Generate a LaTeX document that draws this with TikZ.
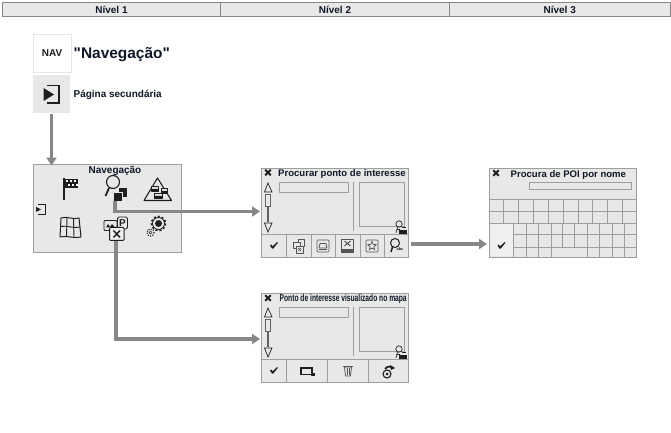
\documentclass[tikz,border=0pt]{standalone}
\usepackage{fontspec}
\setmainfont{Liberation Sans}
\newfontfamily\plainquotes{Liberation Sans}
\usetikzlibrary{arrows.meta,shapes.geometric}
\definecolor{pfill}{HTML}{E8E8E8}
\definecolor{pline}{HTML}{9E9E9E}
\definecolor{arrowgray}{HTML}{878787}
\definecolor{ink}{HTML}{1E1E1E}
\definecolor{soft}{HTML}{555555}
\definecolor{titleink}{HTML}{101828}
\tikzset{
  hdr/.style={draw=arrowgray,fill=pfill,line width=1bp},
  hdrtext/.style={font=\fontsize{10}{10}\selectfont\bfseries,text=titleink,inner sep=0pt},
  panel/.style={draw=pline,fill=pfill,line width=0.9bp,minimum width=#1,inner sep=0pt,rectangle},
  thinl/.style={draw=pline,line width=0.8bp},
  icn/.style={draw=ink,line width=0.9bp,line join=round},
  sicn/.style={draw=soft,line width=0.8bp,line join=round},
  flow/.style={draw=arrowgray,line width=3.6bp,-{Triangle[width=10bp,length=8bp]}},
  ptext/.style={font=\fontsize{10}{10}\selectfont\bfseries,text=titleink,inner sep=0pt}
}
% check mark
\newcommand{\chk}[2]{\fill[ink,shift={(#1,#2)}] (-4,0) -- (-2.8,-1) -- (-1.4,0.8) -- (3,-3.3) -- (4,-2.8) -- (-0.9,3.2) -- (-1.9,3.2) -- cycle;}
% close mark
\newcommand{\clo}[2]{\draw[ink,line width=1.8bp,shift={(#1,#2)}] (-2.8,-2.8) -- (2.8,2.8) (-2.8,2.8) -- (2.8,-2.8);}
% small poi icon corner
\newcommand{\corner}[2]{\begin{scope}[shift={(#1,#2)}]
  \draw[icn,line width=0.7bp] (-1,-3) circle (3.2) (-2.5,0) -- (-4,6) (-3.5,2.5)--(0,2.5);
  \fill[ink] (-1,3) rectangle (7,7);
  \draw[icn,line width=0.7bp] (1.5,0.5) -- (6,0.5);
\end{scope}}
% left part of list panels
\newcommand{\listbody}[1]{\begin{scope}[shift={(0,#1)}]
  \draw[thinl,fill=pfill] (279,14) rectangle (348,24);
  \draw[thinl] (353,14) -- (353,63);
  \draw[thinl] (359,14) rectangle (404,58);
  \draw[draw=ink,line width=0.7bp] (268,15) -- (272,24) -- (264.5,24) -- cycle;
  \draw[draw=ink,line width=0.7bp] (268,64) -- (272,55) -- (264.5,55) -- cycle;
  \draw[draw=ink!70,line width=0.7bp,fill=pfill] (265.5,26) rectangle (270.5,38);
  \draw[ink!70,line width=2.2bp] (268,38) -- (268,54);
  \draw[thinl] (262,66) -- (408,66);
\end{scope}}
\begin{document}
\begin{tikzpicture}[x=1bp,y=-1bp]
\useasboundingbox (0,0) rectangle (671,433);
\fill[white] (0,0) rectangle (671,433);
% headers
\node[hdr,minimum width=218bp,minimum height=14.5bp,inner sep=0pt,hdrtext] (h1) at (111.5,9.75) {Nível 1};
\node[hdr,minimum width=229bp,minimum height=14.5bp,inner sep=0pt,hdrtext] (h2) at (335,9.75) {Nível 2};
\node[hdr,minimum width=220.5bp,minimum height=14.5bp,inner sep=0pt,hdrtext] (h3) at (559.75,9.75) {Nível 3};
% NAV
\node[draw=black!10,fill=white,minimum width=38bp,minimum height=38bp,inner sep=0pt,font=\fontsize{10}{10}\selectfont\bfseries,text=ink,line width=0.7bp] (nav) at (52,53) {NAV};
\node[anchor=west,inner sep=0pt,font=\plainquotes\fontsize{15.5}{16}\selectfont\bfseries,text=titleink] (navt) at (73.5,55) {"Navegação"};
\node[fill=pfill,minimum width=37bp,minimum height=38bp,inner sep=0pt] (page) at (51.5,94) {};
\node[anchor=west,inner sep=0pt,font=\fontsize{10}{10}\selectfont\bfseries,text=titleink] (paget) at (73.5,95) {Página secundária};
\draw[ink,line width=1.5bp] (47,85.5) -- (59,85.5) -- (59,103) -- (47,103);
\fill[ink] (43.5,88) -- (54,94.5) -- (43.5,101) -- cycle;
% panels
\node[panel=148bp,minimum height=88bp] (p1) at (107,208) {};
\node[ptext,anchor=north] (p1t) at (115,166) {Navegação};
\node[panel=146.5bp,minimum height=89bp] (p2) at (335,212.5) {};
\node[panel=147.5bp,minimum height=89bp] (p3) at (562.75,212.5) {};
\node[panel=146.5bp,minimum height=89bp] (p4) at (335,337.5) {};
% --- P1 icons
% exit
\draw[ink,line width=0.7bp] (38,204.5) -- (45,204.5) -- (45,214.5) -- (38,214.5);
\fill[ink] (36,207) -- (41,209.5) -- (36,212) -- cycle;
% flag
\draw[ink,line width=1.6bp] (64,178) -- (64,200);
\fill[ink] (64,179) rectangle (78,188);
\foreach \x/\y in {66/180.5,70/180.5,74/180.5,68/184,72/184,76/184} \fill[white] (\x,\y) rectangle +(2,2);
% magnifier
\node[draw=none,inner sep=0pt,minimum size=1bp] (searchicon) at (115,201) {};
\draw[icn,line width=1.1bp] (113,182) circle (6.5);
\draw[ink,line width=1.8bp] (109,188) -- (105.5,196);
\fill[ink] (119,188) rectangle (127,197);
\draw[fill=ink,draw=pfill,line width=0.7bp] (113,192) rectangle (122,201);
% triangle with cars
\draw[icn,line width=1.1bp] (157.5,178) -- (171.5,200.5) -- (144,200.5) -- cycle;
\draw[icn,fill=pfill,line width=0.8bp] (151,186) rectangle (158,191) (161,188) rectangle (167,193) (154,193) rectangle (162,198);
\fill[ink] (151,189) rectangle (158,191) (161,191) rectangle (167,193) (154,196) rectangle (162,198);
% map
\draw[icn,line width=1bp] (61,218) .. controls (67,216) and (74,220) .. (79,218) -- (81,237) .. controls (75,239) and (67,235) .. (60,237) -- cycle;
\draw[icn,line width=0.9bp] (67,217.5) -- (66.5,236.5) (73.5,218.5) -- (74,237) (60.5,226.5) .. controls (67,225) and (74,229) .. (80,227);
% poi cluster
\node[draw=ink,fill=pfill,rounded corners=1.5bp,line width=0.9bp,minimum width=10bp,minimum height=12bp,inner sep=0pt,font=\fontsize{10}{10}\selectfont\bfseries,text=ink] (pbox) at (122.5,223) {P};
\draw[icn,fill=pfill,rounded corners=1bp] (104,220.5) rectangle (117,230.5);
\fill[ink] (106,227.5) -- (108,224) -- (110,227) -- (112,224) -- (115,227.5) -- cycle;
\draw[icn,fill=pfill!70!white,line width=1bp,rounded corners=1bp] (109.5,227.5) rectangle (124,240.5);
\draw[ink,line width=1.4bp] (113.5,230.5) -- (120,237.5) (120,230.5) -- (113.5,237.5);
\node[draw=none,inner sep=0pt,minimum size=1bp] (poiicon) at (116,241) {};
% gears
\draw[ink,line width=1.6bp,dash pattern=on 2bp off 2bp] (158.5,223.5) circle (7);
\draw[ink,line width=0.8bp] (158.5,223.5) circle (6);
\fill[ink] (158.5,223.5) circle (3.5);
\draw[ink,line width=1bp,dash pattern=on 1.2bp off 1.2bp] (150.5,232.5) circle (3.6);
\draw[ink,line width=0.5bp] (150.5,232.5) circle (1.6);
% --- P2
\node[ptext,anchor=west,font=\fontsize{9.6}{10}\selectfont\bfseries] (p2t) at (278,174) {Procurar ponto de interesse};
\clo{268}{172.5}
\listbody{168}
\corner{400}{227}
\foreach \x in {286,311,335,360,384} \draw[thinl] (\x,234) -- (\x,257);
\chk{274}{245.5}
\begin{scope}[shift={(299,246)}]
  \draw[sicn,line width=0.6bp,fill=pfill] (-1,-7) rectangle (5,0);
  \draw[sicn,line width=0.6bp,fill=pfill] (-6,-4) rectangle (1,2);
  \draw[sicn,line width=0.6bp,fill=pfill] (-3,0) rectangle (4,7);
  \draw[soft,line width=0.7bp] (-1,2) -- (2,5) (2,2) -- (-1,5);
\end{scope}
\begin{scope}[shift={(323,246)}]
  \draw[sicn,line width=0.7bp,rounded corners=1bp] (-6,-6) rectangle (6,6);
  \draw[sicn] (-4,2) -- (-3,-2.5) -- (3,-2.5) -- (4,2) -- cycle;
  \draw[soft,line width=0.8bp] (-4,3.5) -- (4,3.5);
\end{scope}
\begin{scope}[shift={(347.5,246)}]
  \draw[sicn,line width=0.7bp] (-6,-7) rectangle (6,6);
  \draw[soft,line width=1bp] (-3,-5) -- (3,0) (3,-5) -- (-3,0);
  \fill[soft] (-6,3) rectangle (6,6.5);
\end{scope}
\begin{scope}[shift={(372,246)}]
  \draw[sicn,line width=0.7bp,rounded corners=1bp] (-6,-6) rectangle (6,6);
  \node[star,star points=5,star point ratio=2.2,draw=soft,line width=0.7bp,minimum size=9bp,inner sep=0pt] (staricon) at (0,0) {};
\end{scope}
\begin{scope}[shift={(395,243)}]
  \draw[icn,line width=1bp] (0,0) circle (4.5);
  \draw[ink,line width=1.5bp] (-2.5,4) -- (-4,9);
  \node[inner sep=0pt,font=\fontsize{4}{4}\selectfont\bfseries,text=ink] (abc) at (5,6.5) {abc};
\end{scope}
% --- P3
\clo{496}{173}
\node[ptext,anchor=west,font=\fontsize{9.6}{10}\selectfont\bfseries] (p3t) at (510.5,175) {Procura de POI por nome};
\draw[thinl] (529,182) rectangle (631,189);
\fill[pfill!70!white] (489.5,223.5) rectangle (512.5,256.5);
\draw[thinl] (489,199) -- (636.5,199) (489,211) -- (636.5,211) (489,223) -- (636.5,223);
\foreach \x in {503,518,533,548,563,578,592,607,622} \draw[thinl] (\x,199) -- (\x,223);
\draw[thinl] (513,234) -- (636.5,234) (513,247) -- (636.5,247);
\foreach \x in {513,526,538,551,587,599,612,624} \draw[thinl] (\x,223) -- (\x,257);
\foreach \x in {562,574} \draw[thinl] (\x,223) -- (\x,247);
\chk{501.5}{245.5}
% --- P4
\clo{268}{298}
\node[inner sep=0pt,anchor=west,text=titleink] (p4t) at (279.5,299) {\resizebox{127bp}{\height}{\fontsize{10}{10}\selectfont\bfseries Ponto de interesse visualizado no mapa}};
\listbody{293}
\corner{400}{352}
\foreach \x in {286,327,368} \draw[thinl] (\x,360) -- (\x,382);
\chk{274}{370.5}
\draw[ink,line width=1.6bp] (301,368) rectangle (312,374.5);
\fill[ink] (311,373) rectangle (315,376);
\begin{scope}[shift={(348,371)}]
  \draw[sicn] (-3.5,-4) -- (3.5,-4) -- (2.5,5) -- (-2.5,5) -- cycle;
  \draw[soft,line width=0.7bp] (-1,-3) -- (-1,4) (1,-3) -- (1,4);
  \draw[soft,line width=1bp] (-5,-5) -- (5,-5);
\end{scope}
\begin{scope}[shift={(388,372)}]
  \draw[icn,line width=1.1bp] (-1,2) circle (4);
  \fill[ink] (-1,2) circle (1.5);
  \draw[ink,line width=1.7bp] (-3,-3) .. controls (-1,-6) and (3,-6) .. (4,-4);
  \fill[ink] (2,-7) -- (7,-4) -- (3,-2) -- cycle;
\end{scope}
% connectors
\coordinate (in2) at (260,211.5);
\coordinate (in3) at (487,244);
\coordinate (in4) at (260,339);
\coordinate (out2) at (411,244);
\coordinate (p1top) at (page.south |- p1.north);
\draw[flow] (page.south) ++(0,1) -- ([yshift=-2bp]p1top);
\draw[flow] (searchicon.center) |- (in2);
\draw[flow] (poiicon.center) |- (in4);
\draw[flow] (out2) -- (in3);
\end{tikzpicture}
\end{document}
